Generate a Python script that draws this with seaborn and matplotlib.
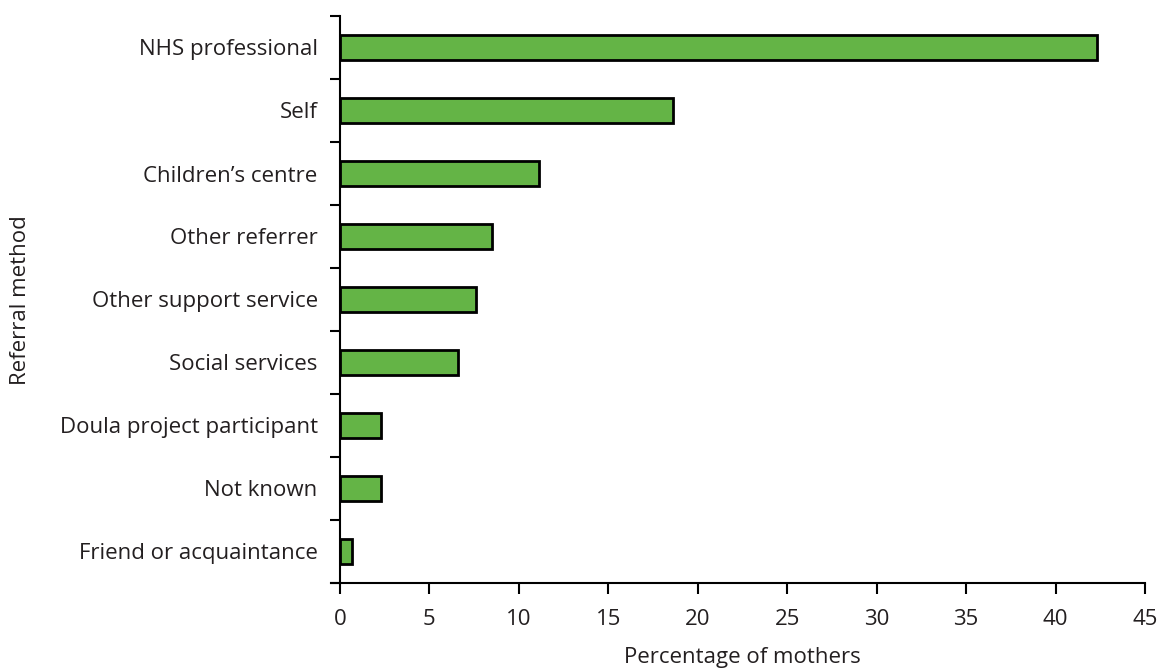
import matplotlib
matplotlib.use("Agg")
import matplotlib.pyplot as plt
import seaborn as sns
import pandas as pd
import numpy as np
from matplotlib.ticker import FixedLocator

categories = ["NHS professional", "Self", "Children\u2019s centre", "Other referrer",
              "Other support service", "Social services", "Doula project participant",
              "Not known", "Friend or acquaintance"]
values = [42.3, 18.6, 11.1, 8.5, 7.6, 6.6, 2.3, 2.3, 0.7]
xticks = [0, 5, 10, 15, 20, 25, 30, 35, 40, 45]

sns.set_theme(style="white")
plt.rcParams['font.family'] = ['Open Sans', 'DejaVu Sans']

FS = 16.0
TXT = '#231f20'

df = pd.DataFrame({"method": categories, "pct": values})

fig = plt.figure(figsize=(11.65, 6.7), dpi=100)
ax = fig.add_axes([331/1165, 1 - 583/670, (1145 - 331)/1165, (583 - 16)/670])

sns.barplot(data=df, x="pct", y="method", orient="h", color="#64B446", saturation=1,
            edgecolor="black", linewidth=2, width=0.4, ax=ax)

ax.set_xlim(-0.5, 45)
ax.set_ylim(len(categories) - 0.5, -0.5)

ax.spines['left'].set_position(('data', 0))
ax.spines['right'].set_visible(False)
ax.spines['top'].set_visible(False)
for s in ['left', 'bottom']:
    ax.spines[s].set_color('black')
    ax.spines[s].set_linewidth(1.5)

ax.set_xticks(xticks)
ax.set_xticklabels([str(t) for t in xticks], fontsize=FS, color=TXT)
ax.tick_params(axis='x', direction='out', length=8, width=1.5, color='black', pad=11, bottom=True)

# y: major ticks at category boundaries, labels at minor ticks (centres)
bounds = np.arange(-0.5, len(categories), 1.0)
ax.yaxis.set_major_locator(FixedLocator(bounds))
ax.set_yticklabels([""] * len(bounds))
ax.yaxis.set_minor_locator(FixedLocator(np.arange(len(categories))))
ax.set_yticklabels(categories, minor=True, fontsize=FS, color=TXT)
ax.tick_params(axis='y', which='major', direction='out', length=7.5, width=1.5, color='black', left=True)
ax.tick_params(axis='y', which='minor', length=0, pad=16)

ax.set_xlabel("")
ax.set_ylabel("")
fig.text(742/1165, 1 - 663/670, "Percentage of mothers", fontsize=FS,
         color=TXT, ha='center', va='baseline')
fig.text(21/1165, 1 - 300/670, "Referral method", rotation=90, fontsize=FS,
         color=TXT, ha='center', va='center')

fig.savefig("out.png", dpi=100)
